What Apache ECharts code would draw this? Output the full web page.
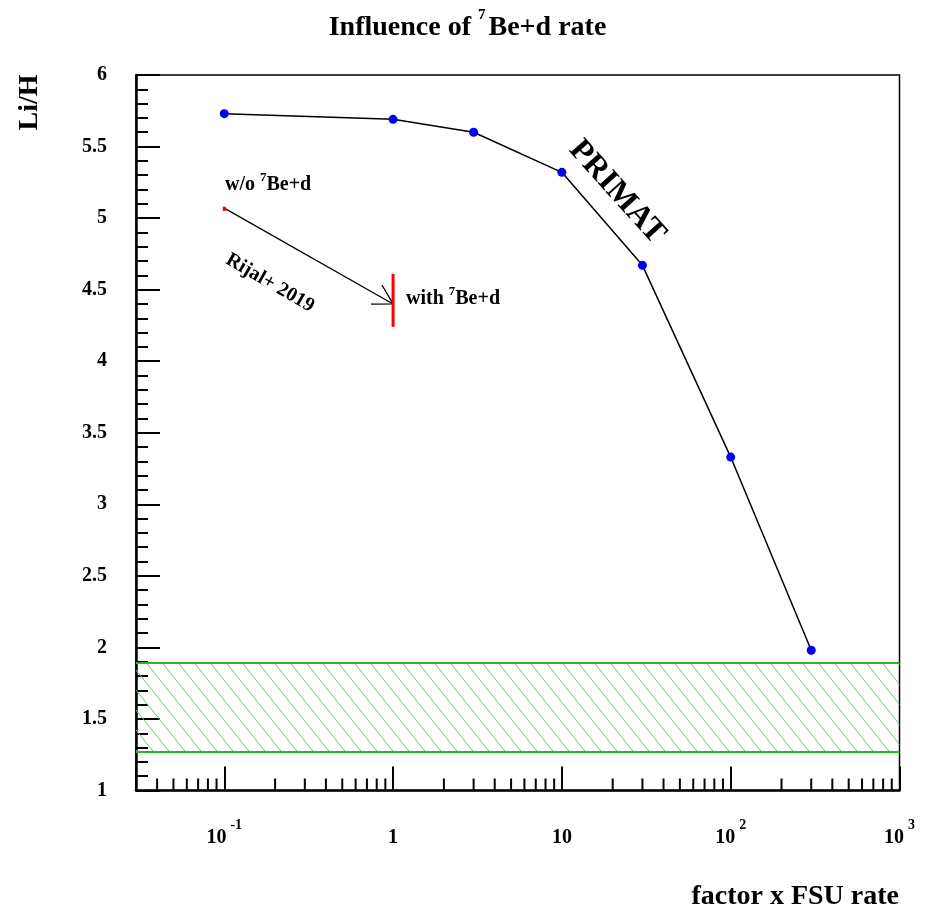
<!DOCTYPE html>
<html>
<head>
<meta charset="utf-8">
<script src="https://cdn.jsdelivr.net/npm/echarts@6/dist/echarts.min.js"></script>
<style>
  html, body { margin: 0; padding: 0; background: #fff; }
  #chart { width: 935px; height: 909px; }
</style>
</head>
<body>
<div id="chart"></div>
<script>
// PRIMAT Li/H versus the 7Be+d rate factor
var factors = [0.1, 1, 3, 10, 30, 100, 300];
var liH = [5.73, 5.69, 5.60, 5.32, 4.67, 3.33, 1.98];

// observed Li/H band
var bandLow = 1.27;
var bandHigh = 1.89;

// Rijal+ 2019 arrow (without -> with 7Be+d) and its red bars
var rijalArrow = [[0.1, 5.07, 1, 4.40]];
var rijalBars = [[0.1, 5.05, 5.08], [1, 4.24, 4.61]];

// axis ranges and ticks
var xMin = 0.03, xMax = 1000;
var yMin = 1, yMax = 6, yStep = 0.5;
var xMinorTicks = [0.04, 0.05, 0.06, 0.07, 0.08, 0.09,
  0.2, 0.3, 0.4, 0.5, 0.6, 0.7, 0.8, 0.9,
  2, 3, 4, 5, 6, 7, 8, 9,
  20, 30, 40, 50, 60, 70, 80, 90,
  200, 300, 400, 500, 600, 700, 800, 900];

var serif = '"Liberation Serif", "Times New Roman", serif';

// hatch for the band
var hatch = document.createElement('canvas');
hatch.width = 16; hatch.height = 20;
var hc = hatch.getContext('2d');
hc.strokeStyle = '#6cc86c';
hc.lineWidth = 1;
[-16, 0, 16].forEach(function (k) {
  hc.beginPath();
  hc.moveTo(k, 0);
  hc.lineTo(k + 16, 20);
  hc.stroke();
});

var myChart = echarts.init(document.getElementById('chart'));

var supRich = {
  n: { fontFamily: serif, fontWeight: 'bold', fontSize: 20, lineHeight: 38, color: '#000' },
  s: { fontFamily: serif, fontWeight: 'bold', fontSize: 14, lineHeight: 14, verticalAlign: 'top', padding: [0, 0, 0, 4], color: '#000' }
};
var noteRich = {
  n: { fontFamily: serif, fontWeight: 'bold', fontSize: 20, lineHeight: 26, color: '#000' },
  s: { fontFamily: serif, fontWeight: 'bold', fontSize: 13, lineHeight: 9, verticalAlign: 'top', color: '#000' }
};

var option = {
  backgroundColor: '#fff',
  animation: false,
  title: {
    text: '{n|Influence of }{s|7}{n|Be+d rate}',
    left: 'center',
    top: 8,
    padding: 0,
    textStyle: {
      rich: {
        n: { fontFamily: serif, fontWeight: 'bold', fontSize: 28, lineHeight: 40, color: '#000' },
        s: { fontFamily: serif, fontWeight: 'bold', fontSize: 15, lineHeight: 13, verticalAlign: 'top', padding: [0, 3, 0, 0], color: '#000' }
      }
    }
  },
  grid: {
    left: 136, right: 35.5, top: 75, bottom: 118.5,
    show: true, borderColor: '#000', borderWidth: 1.5,
    backgroundColor: 'transparent',
    containLabel: false, outerBoundsMode: 'none'
  },
  xAxis: {
    type: 'log', logBase: 10, min: xMin, max: xMax,
    axisLine: { show: true, onZero: false, lineStyle: { color: '#000', width: 2.5 } },
    axisTick: { show: true, inside: true, length: 24, lineStyle: { color: '#000', width: 2 } },
    splitLine: { show: false },
    axisLabel: {
      margin: 28,
      showMaxLabel: true,
      formatter: function (v) {
        var l = Math.log10(v), e = Math.round(l);
        if (Math.abs(l - e) > 1e-6) return '';
        if (e === 0) return '{n|1}';
        if (e === 1) return '{n|10}';
        return '{n|10}{s|' + e + '}';
      },
      rich: supRich
    }
  },
  yAxis: {
    type: 'value', min: yMin, max: yMax, interval: yStep,
    axisLine: { show: true, onZero: false, lineStyle: { color: '#000', width: 2.5 } },
    axisTick: { show: true, inside: true, length: 24, lineStyle: { color: '#000', width: 2 } },
    minorTick: { show: true, splitNumber: 5, length: 12, lineStyle: { color: '#000', width: 2 } },
    splitLine: { show: false },
    axisLabel: {
      margin: 29, color: '#000',
      fontFamily: serif, fontWeight: 'bold', fontSize: 20
    }
  },
  series: [
    {
      type: 'line',
      data: factors.map(function (f, i) { return [f, liH[i]]; }),
      symbol: 'circle', symbolSize: 9,
      itemStyle: { color: '#0000ee' },
      lineStyle: { color: '#000', width: 1.5 },
      z: 5,
      markArea: {
        silent: true,
        itemStyle: { color: { image: hatch, repeat: 'repeat' } },
        label: { show: false },
        data: [[{ yAxis: bandLow }, { yAxis: bandHigh }]]
      },
      markLine: {
        silent: true, symbol: 'none',
        label: { show: false },
        lineStyle: { color: '#2db52d', width: 2, type: 'solid' },
        data: [{ yAxis: bandLow }, { yAxis: bandHigh }]
      }
    },
    {
      // minor ticks of the log axis
      type: 'custom', silent: true, z: 6,
      data: xMinorTicks.map(function (v) { return [v, yMin]; }),
      renderItem: function (params, api) {
        var p = api.coord([api.value(0), api.value(1)]);
        return { type: 'line', shape: { x1: p[0], y1: p[1], x2: p[0], y2: p[1] - 12 },
          style: { stroke: '#000', lineWidth: 2 } };
      }
    },
    {
      type: 'custom', silent: true, z: 6,
      data: rijalArrow,
      encode: { x: 0, y: 1 },
      renderItem: function (params, api) {
        var a = api.coord([api.value(0), api.value(1)]);
        var b = api.coord([api.value(2), api.value(3)]);
        var ang = Math.atan2(a[1] - b[1], a[0] - b[0]);
        var L = 22, w = Math.PI / 6;
        return { type: 'group', children: [
          { type: 'line', shape: { x1: a[0], y1: a[1], x2: b[0], y2: b[1] },
            style: { stroke: '#000', lineWidth: 1.3 } },
          { type: 'polyline', shape: { points: [
              [b[0] + L * Math.cos(ang - w), b[1] + L * Math.sin(ang - w)], b,
              [b[0] + L * Math.cos(ang + w), b[1] + L * Math.sin(ang + w)]] },
            style: { stroke: '#000', fill: null, lineWidth: 1.3 } }
        ] };
      }
    },
    {
      type: 'custom', silent: true, z: 7,
      data: rijalBars,
      encode: { x: 0, y: [1, 2] },
      renderItem: function (params, api) {
        var lo = api.coord([api.value(0), api.value(1)]);
        var hi = api.coord([api.value(0), api.value(2)]);
        return { type: 'line', shape: { x1: lo[0], y1: lo[1], x2: hi[0], y2: hi[1] },
          style: { stroke: '#ff0000', lineWidth: 3 } };
      }
    }
  ],
  graphic: [
    { type: 'text', x: 225, y: 171.5,
      style: { text: '{n|w/o }{s|7}{n|Be+d}', rich: noteRich, align: 'left', verticalAlign: 'top' } },
    { type: 'text', x: 406, y: 285.5,
      style: { text: '{n|with }{s|7}{n|Be+d}', rich: noteRich, align: 'left', verticalAlign: 'top' } },
    { type: 'text', x: 270, y: 283, rotation: -30 * Math.PI / 180,
      style: { text: 'Rijal+ 2019', fontFamily: serif, fontWeight: 'bold', fontSize: 20, fill: '#000',
        align: 'center', verticalAlign: 'middle' } },
    { type: 'text', x: 617, y: 192, rotation: -48 * Math.PI / 180,
      style: { text: 'PRIMAT', fontFamily: serif, fontWeight: 'bold', fontSize: 32, fill: '#000',
        align: 'center', verticalAlign: 'middle' } },
    { type: 'text', x: 30, y: 102.5, rotation: Math.PI / 2,
      style: { text: 'Li/H', fontFamily: serif, fontWeight: 'bold', fontSize: 28, fill: '#000',
        align: 'center', verticalAlign: 'middle' } },
    { type: 'text', x: 899, y: 897,
      style: { text: 'factor x FSU rate', fontFamily: serif, fontWeight: 'bold', fontSize: 28, fill: '#000',
        align: 'right', verticalAlign: 'middle' } }
  ]
};

myChart.setOption(option);
</script>
</body>
</html>
